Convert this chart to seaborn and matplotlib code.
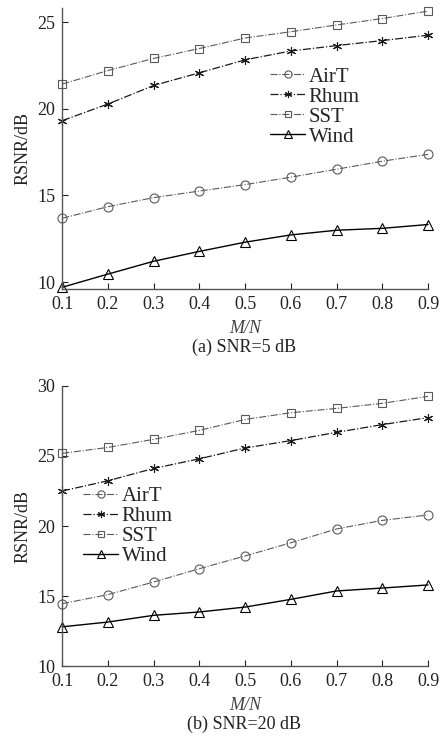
import matplotlib
matplotlib.use("Agg")
import matplotlib.pyplot as plt
import seaborn as sns
import pandas as pd

sns.set_theme(style="white")
plt.rcParams['font.family'] = ['Liberation Serif', 'DejaVu Serif']

ratio = [0.1, 0.2, 0.3, 0.4, 0.5, 0.6, 0.7, 0.8, 0.9]
series = ["AirT", "Rhum", "SST", "Wind"]

# (a) SNR = 5 dB
a_airt = [13.68, 14.35, 14.87, 15.25, 15.62, 16.05, 16.51, 16.97, 17.37]
a_rhum = [19.31, 20.27, 21.34, 22.07, 22.82, 23.33, 23.64, 23.93, 24.24]
a_sst = [21.42, 22.20, 22.90, 23.47, 24.08, 24.44, 24.83, 25.20, 25.63]
a_wind = [9.70, 10.46, 11.20, 11.77, 12.30, 12.72, 12.99, 13.10, 13.32]

# (b) SNR = 20 dB
b_airt = [14.45, 15.10, 16.00, 16.95, 17.86, 18.80, 19.79, 20.40, 20.79]
b_rhum = [22.50, 23.23, 24.11, 24.80, 25.57, 26.10, 26.69, 27.24, 27.74]
b_sst = [25.19, 25.61, 26.19, 26.83, 27.61, 28.09, 28.40, 28.76, 29.26]
b_wind = [12.80, 13.14, 13.62, 13.86, 14.21, 14.76, 15.36, 15.57, 15.79]

x_ticks = [0.1, 0.2, 0.3, 0.4, 0.5, 0.6, 0.7, 0.8, 0.9]
a_yticks = [10, 15, 20, 25]
b_yticks = [10, 15, 20, 25, 30]
captions = ["(a) SNR=5 dB", "(b) SNR=20 dB"]

styles = {
    "AirT": dict(color="#5a5a5a", linestyle="-.", marker="o", ms=6.5, lw=0.8),
    "Rhum": dict(color="#1a1a1a", linestyle="-.", marker=(6, 2, 0), ms=6.5, lw=0.9),
    "SST": dict(color="#5a5a5a", linestyle="-.", marker="s", ms=6, lw=0.8),
    "Wind": dict(color="#000000", linestyle="-", marker="^", ms=7, lw=1.0),
}

fig = plt.figure(figsize=(4.44, 7.42), dpi=100)
ax_a = fig.add_axes([0.140, 0.6105, 0.824, 0.3785])
ax_b = fig.add_axes([0.140, 0.1024, 0.824, 0.3774])

panels = [
    (ax_a, [a_airt, a_rhum, a_sst, a_wind], (9.6, 25.8), a_yticks, captions[0],
     (0.568, 0.79), 0.6105),
    (ax_b, [b_airt, b_rhum, b_sst, b_wind], (10, 30), b_yticks, captions[1],
     (0.057, 0.64), 0.1024),
]

for ax, vals, ylim, yticks, cap, legpos, bottom in panels:
    for name, v in zip(series, vals):
        st = styles[name]
        df = pd.DataFrame({"x": ratio, "y": v})
        sns.lineplot(data=df, x="x", y="y", ax=ax, color=st["color"],
                     linestyle=st["linestyle"], lw=st["lw"], marker=st["marker"],
                     markersize=st["ms"], markerfacecolor="none",
                     markeredgecolor=st["color"], markeredgewidth=0.8,
                     label=name)
    ax.set_xlim(0.1, 0.9)
    ax.set_ylim(*ylim)
    ax.set_xticks(x_ticks)
    ax.set_xticklabels([f"{t:.1f}" for t in x_ticks])
    ax.set_yticks(yticks)
    ax.tick_params(direction="in", length=4, width=0.8, colors="#222222",
                   labelsize=13, pad=5, left=True, bottom=True)
    for s in ["top", "right"]:
        ax.spines[s].set_visible(False)
    for s in ["left", "bottom"]:
        ax.spines[s].set_color("#555555")
        ax.spines[s].set_linewidth(1.0)
    ax.set_xlabel("M/N", fontsize=13, color="#444444", style="italic",
                  labelpad=5)
    ax.set_ylabel("RSNR/dB", fontsize=13, color="#222222", labelpad=4)
    ax.set_facecolor("white")
    for ln in ax.lines:
        ln.set_clip_on(False)
    leg = ax.legend(loc="upper left", bbox_to_anchor=legpos, frameon=False,
                    fontsize=15, handlelength=1.7, handletextpad=0.15,
                    labelspacing=0.02, borderaxespad=0, borderpad=0,
                    markerscale=0.8)
    fig.text(0.55, bottom - 0.078, cap, ha="center", va="center", fontsize=13,
             color="#222222")

fig.savefig("out.png", dpi=100, facecolor="white")
